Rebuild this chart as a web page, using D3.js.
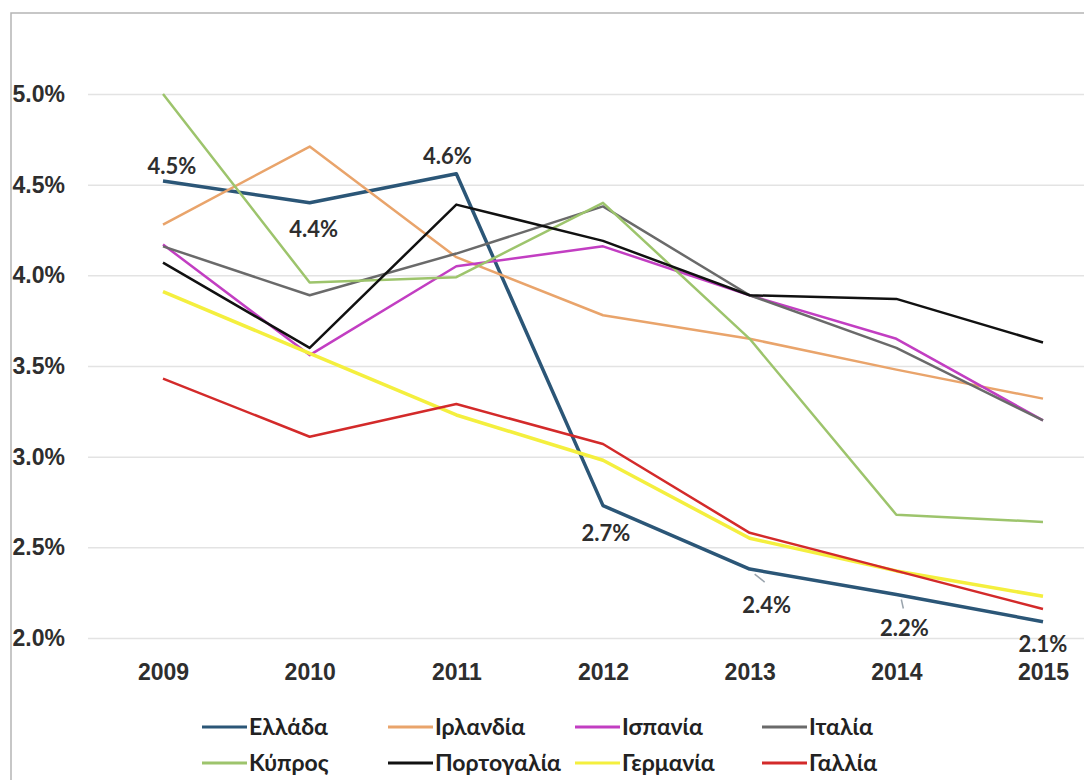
<!DOCTYPE html>
<html>
<head>
<meta charset="utf-8">
<script src="https://cdn.jsdelivr.net/npm/d3@7"></script>
<style>
  html, body { margin: 0; padding: 0; background: #fff; }
  svg { display: block; font-family: Lato, "Open Sans", sans-serif; }
  .axis text { fill: #2e2e2e; font-weight: 700; font-size: 23px; }
  .axis .domain { display: none; }
  .y.axis line { stroke: #e3e3e3; stroke-width: 1.5; }
  .label { fill: #2e2e2e; font-weight: 700; font-size: 22px; text-anchor: middle; }
  .legend text { fill: #222; font-weight: 700; font-size: 23px; }
</style>
</head>
<body>
<div id="chart"></div>
<script>
/*
** Data
*/
var years = [2009, 2010, 2011, 2012, 2013, 2014, 2015]
  , names = ["Ελλάδα", "Ιρλανδία", "Ισπανία", "Ιταλία",
             "Κύπρος", "Πορτογαλία", "Γερμανία", "Γαλλία"]
  , greece   = [4.52, 4.40, 4.56, 2.73, 2.38, 2.24, 2.09]
  , ireland  = [4.28, 4.71, 4.10, 3.78, 3.65, 3.48, 3.32]
  , spain    = [4.17, 3.56, 4.05, 4.16, 3.89, 3.65, 3.20]
  , italy    = [4.16, 3.89, 4.12, 4.38, 3.89, 3.60, 3.20]
  , cyprus   = [5.00, 3.96, 3.99, 4.40, 3.65, 2.68, 2.64]
  , portugal = [4.07, 3.60, 4.39, 4.19, 3.89, 3.87, 3.63]
  , germany  = [3.91, 3.57, 3.23, 2.98, 2.55, 2.37, 2.23]
  , france   = [3.43, 3.11, 3.29, 3.07, 2.58, 2.37, 2.16]
  , greeceLabels = ["4.5%", "4.4%", "4.6%", "2.7%", "2.4%", "2.2%", "2.1%"]
  , yTicks = [2.0, 2.5, 3.0, 3.5, 4.0, 4.5, 5.0]
;

/*
** Styles
*/
var width = 1084
  , height = 780
  , colors = ["#2b5677", "#e9a46b", "#c23ec2", "#6a6a6a",
              "#9dc46c", "#111111", "#f4ef3e", "#d32a2a"]
  , widths = [3.5, 2.5, 2.5, 2.5, 2.5, 2.5, 3.5, 2.5]
  // label offsets (dx, dy) from each Greece point
  , labelOffsets = [[9, -15], [4, 26], [-9, -17], [3, 28], [17, 36], [8, 34], [0, 23]]
;

var series = [greece, ireland, spain, italy, cyprus, portugal, germany, france]
    .map(function(v, i) { return { name: names[i], values: v, color: colors[i], width: widths[i] }; });

var svg = d3.select("#chart").append("svg")
    .attr("width", width)
    .attr("height", height)
;

// frame of the pasted chart
svg.append("rect")
    .attr("x", 11).attr("y", 13)
    .attr("width", width + 20).attr("height", height + 20)
    .attr("fill", "none")
    .attr("stroke", "#b5b5b5")
    .attr("stroke-width", 1.5)
;

var x = d3.scalePoint().domain(years).range([163, 1043])
  , y = d3.scaleLinear().domain([2, 5]).range([638, 94])
;

// y axis + gridlines
svg.append("g")
    .attr("class", "y axis")
    .attr("transform", "translate(88,0)")
    .call(d3.axisLeft(y)
        .tickValues(yTicks)
        .tickSize(-(width - 88))
        .tickPadding(23)
        .tickFormat(function(d) { return d3.format(".1f")(d) + "%"; }))
;

// x axis
svg.append("g")
    .attr("class", "x axis")
    .attr("transform", "translate(0," + y(2) + ")")
    .call(d3.axisBottom(x).tickSize(0).tickPadding(26))
;

var line = d3.line()
    .x(function(d, i) { return x(years[i]); })
    .y(function(d) { return y(d); })
;

svg.append("g")
    .attr("class", "lines")
  .selectAll("path")
    .data(series)
  .enter().append("path")
    .attr("d", function(d) { return line(d.values); })
    .attr("fill", "none")
    .attr("stroke", function(d) { return d.color; })
    .attr("stroke-width", function(d) { return d.width; })
    .attr("stroke-linejoin", "round")
;

// leader lines for shifted labels
var leaders = svg.append("g").attr("class", "leaders");
[4, 5].forEach(function(i) {
    var px = x(years[i]), py = y(greece[i]);
    leaders.append("line")
        .attr("x1", px + 5).attr("y1", py + 5)
        .attr("x2", px + (i === 4 ? 15 : 7)).attr("y2", py + (i === 4 ? 13 : 14))
        .attr("stroke", "#9aa4ad")
        .attr("stroke-width", 1.5)
    ;
});

// data labels for Greece
svg.append("g")
  .selectAll("text")
    .data(greece)
  .enter().append("text")
    .attr("class", "label")
    .attr("x", function(d, i) { return x(years[i]) + labelOffsets[i][0]; })
    .attr("y", function(d, i) { return y(d) + labelOffsets[i][1]; })
    .attr("dy", "0.35em")
    .text(function(d, i) { return greeceLabels[i]; })
;

// legend, two rows of four (second row sits right at the bottom edge)
var legendX = [202, 388, 575, 762]
  , legendY = [727, 763]
;
var item = svg.append("g")
    .attr("class", "legend")
  .selectAll("g")
    .data(series)
  .enter().append("g")
    .attr("transform", function(d, i) {
        return "translate(" + legendX[i % 4] + "," + legendY[Math.floor(i / 4)] + ")";
      })
;
item.append("line")
    .attr("x1", 0).attr("x2", 45)
    .attr("stroke", function(d) { return d.color; })
    .attr("stroke-width", 3)
;
item.append("text")
    .attr("x", 47)
    .attr("dy", "0.35em")
    .text(function(d) { return d.name; })
;
</script>
</body>
</html>
